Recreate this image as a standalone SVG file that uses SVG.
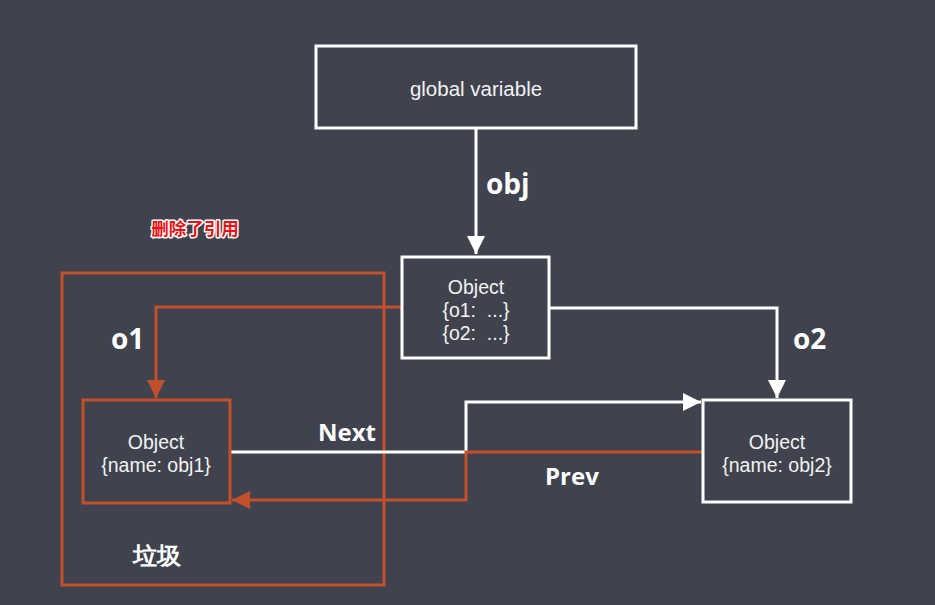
<svg xmlns="http://www.w3.org/2000/svg" width="935" height="605" viewBox="0 0 935 605">
<defs>
<style>
.box{fill:none;stroke:#ffffff;stroke-width:3}
.obox{fill:none;stroke:#c2502a;stroke-width:3}
.t{font-family:"Liberation Sans",Arial,sans-serif;font-size:19.5px;fill:#f2f2f2;text-anchor:middle;white-space:pre}
.lbl{font-family:"Open Sans","Noto Sans",sans-serif;font-size:24px;font-weight:bold;fill:#ffffff}
.big{font-size:28px}
.w{fill:none;stroke:#ffffff;stroke-width:3}
.o{fill:none;stroke:#c2502a;stroke-width:3}
</style>
<marker id="aw" viewBox="0 0 10 10" refX="10" refY="5" markerWidth="7" markerHeight="6" markerUnits="strokeWidth" orient="auto"><path d="M0,0 L10,5 L0,10 z" fill="#ffffff"/></marker>
<marker id="ao" viewBox="0 0 10 10" refX="10" refY="5" markerWidth="7" markerHeight="6" markerUnits="strokeWidth" orient="auto"><path d="M0,0 L10,5 L0,10 z" fill="#c2502a"/></marker>
</defs>
<rect width="935" height="605" fill="#40434e"/>
<g id="garbage">
<rect class="obox" x="62" y="273" width="322" height="312"/>
<text class="lbl" x="157" y="564" text-anchor="middle" font-family="'Noto Sans CJK SC',sans-serif">垃圾</text>
</g>
<g id="connectors">
<path class="w" d="M476,128 L476,254" marker-end="url(#aw)"/>
<path class="o" d="M402,307 L156,307 L156,398" marker-end="url(#ao)"/>
<path class="w" d="M549,308 L777,308 L777,398" marker-end="url(#aw)"/>
<path class="w" d="M230,452 L466,452 L466,402 L701,402" marker-end="url(#aw)"/>
<path class="o" d="M703,452 L466,452 L466,500 L232,500" marker-end="url(#ao)"/>
<text class="lbl big" x="486" y="194">obj</text>
<text class="lbl big" x="111" y="349">o1</text>
<text class="lbl big" x="793" y="349">o2</text>
<text class="lbl" x="318" y="441">Next</text>
<text class="lbl" x="545" y="485">Prev</text>
</g>
<g id="global">
<rect class="box" x="316" y="46" width="320" height="82"/>
<text class="t" x="476" y="96" style="font-size:20.5px">global variable</text>
</g>
<g id="root-object">
<rect class="box" x="402" y="257" width="147" height="101"/>
<text class="t" x="476" y="294">Object</text>
<text class="t" x="476" y="317" xml:space="preserve">{o1:  ...}</text>
<text class="t" x="476" y="340" xml:space="preserve">{o2:  ...}</text>
</g>
<g id="obj1">
<rect class="obox" x="83" y="400" width="147" height="103"/>
<text class="t" x="156" y="449">Object</text>
<text class="t" x="156" y="472">{name: obj1}</text>
</g>
<g id="obj2">
<rect class="box" x="703" y="400" width="148" height="102"/>
<text class="t" x="777" y="449">Object</text>
<text class="t" x="777" y="472">{name: obj2}</text>
</g>
<g id="note">
<text x="195" y="235" text-anchor="middle" font-family="'Noto Sans CJK SC',sans-serif" font-size="17.5" font-weight="bold" fill="#ee1111" stroke="#ffffff" stroke-width="3" paint-order="stroke" stroke-linejoin="round">删除了引用</text>
</g>
</svg>
